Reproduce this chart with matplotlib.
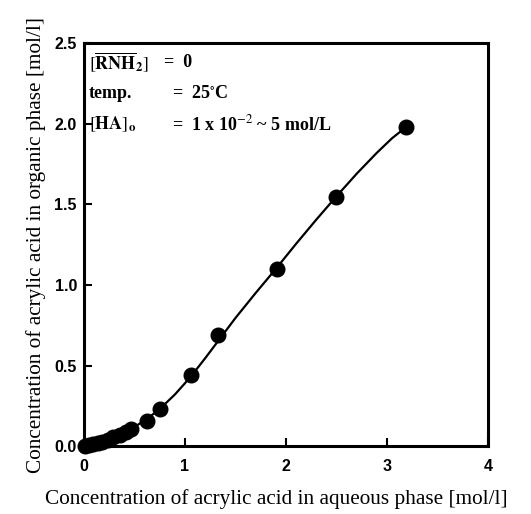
import matplotlib.pyplot as plt

plt.rcParams['mathtext.fontset'] = 'stix'

# 实验点: 水相浓度 / 有机相浓度 [mol/l]
aq_conc = [0.01, 0.05, 0.09, 0.14, 0.18, 0.24, 0.29, 0.36, 0.42, 0.47,
           0.62, 0.75, 1.06, 1.33, 1.91, 2.50, 3.19]
org_conc = [0.003, 0.008, 0.015, 0.02, 0.025, 0.04, 0.055, 0.07, 0.09, 0.105,
            0.155, 0.23, 0.44, 0.69, 1.10, 1.545, 1.98]

# 拟合曲线
curve_x = [0.0, 0.1, 0.2, 0.3, 0.4, 0.5, 0.6, 0.7, 0.8, 0.9, 1.0, 1.1,
           1.2, 1.32, 1.5, 1.7, 1.9, 2.1, 2.3, 2.5, 2.7, 2.9, 3.05, 3.2]
curve_y = [0.0, 0.01, 0.025, 0.05, 0.082, 0.118, 0.16, 0.205, 0.26, 0.32,
           0.39, 0.465, 0.545, 0.645, 0.795, 0.95, 1.10, 1.255, 1.405,
           1.55, 1.69, 1.82, 1.91, 1.985]

xticks = [0, 1, 2, 3, 4]
yticks = [0.0, 0.5, 1.0, 1.5, 2.0, 2.5]

fig = plt.figure(figsize=(5.31, 5.14), dpi=100)
ax = fig.add_axes([0.158, 0.132, 0.761, 0.784])

ax.plot(curve_x, curve_y, color='black', linewidth=1.6, zorder=2)
ax.plot(aq_conc, org_conc, 'o', color='black', markersize=10.5, zorder=3, clip_on=False)

ax.set_xlim(0, 4)
ax.set_ylim(0, 2.5)
ax.set_xticks(xticks)
ax.set_xticklabels([str(v) for v in xticks])
ax.set_yticks(yticks)
ax.set_yticklabels([f'{v:.1f}' for v in yticks])
ax.tick_params(direction='in', length=6, width=1.5, labelsize=11.5)
ax.tick_params(axis='x', pad=9)
ax.tick_params(axis='y', pad=5)
for lab in ax.get_xticklabels() + ax.get_yticklabels():
    lab.set_fontweight('bold')
    lab.set_family('Liberation Sans')
for s in ax.spines.values():
    s.set_linewidth(2.2)

ax.set_xlabel('Concentration of acrylic acid in aqueous phase [mol/l]',
              family='Liberation Serif', fontsize=15.3)
ax.xaxis.set_label_coords(0.476, -0.107)
ax.set_ylabel('Concentration of acrylic acid in organic phase [mol/l]',
              family='Liberation Serif', fontsize=15.3, labelpad=6)

# 实验条件
tkw = dict(transform=ax.transAxes, family='Liberation Serif', fontsize=13,
           fontweight='bold', va='center')
ax.text(0.012, 0.953, r'$[\overline{\mathbf{RNH}}_{\mathbf{2}}]$', **tkw)
ax.text(0.198, 0.953, '=  0', **tkw)
ax.text(0.012, 0.876, 'temp.', **tkw)
ax.text(0.218, 0.876, '=  25$^{\\circ}$C', **tkw)
ax.text(0.012, 0.799, r'$[\mathbf{HA}]_{\mathbf{o}}$', **tkw)
ax.text(0.218, 0.799, '=  1 x 10$^{-2}$ ~ 5 mol/L', **tkw)

fig.savefig('out.png', dpi=100)
